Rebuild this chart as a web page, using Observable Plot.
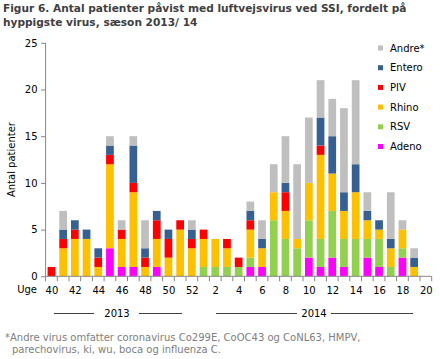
<!DOCTYPE html>
<html><head><meta charset="utf-8">
<script src="https://cdn.jsdelivr.net/npm/d3@7"></script>
<script src="https://cdn.jsdelivr.net/npm/@observablehq/plot@0.6"></script>
<style>
body{margin:0;background:#fff;}
#wrap{position:relative;width:440px;height:359px;font-family:"DejaVu Sans",Verdana,sans-serif;overflow:hidden;background:#fff}
#title{position:absolute;left:3px;top:2px;font-weight:bold;font-size:10.6px;line-height:13.5px;color:#404040;white-space:nowrap}
#plot{position:absolute;left:0;top:37px;width:440px}
#note{position:absolute;left:5px;top:332px;font-size:10px;line-height:12px;color:#808080;white-space:nowrap}
#note span{display:inline-block;margin-left:7px}
</style></head><body>
<div id="wrap">
<div id="title">Figur 6. Antal patienter påvist med luftvejsvirus ved SSI, fordelt på<br>hyppigste virus, sæson 2013/ 14</div>
<div id="plot"></div>
<div id="note">*Andre virus omfatter coronavirus Co299E, CoOC43 og CoNL63, HMPV,<br><span>parechovirus, ki, wu, boca og influenza C.</span></div>
</div>
<script>
const weeks = [40,41,42,43,44,45,46,47,48,49,50,51,52,1,2,3,4,5,6,7,8,9,10,11,12,13,14,15,16,17,18,19,20];
const tickWeeks = [40,42,44,46,48,50,52,2,4,6,8,10,12,14,16,18,20];
const seriesNames = ["Adeno","RSV","Rhino","PIV","Entero","Andre*"];
const seriesColors = ["#FF00FF","#92D050","#FFC000","#FF0000","#376092","#BFBFBF"];
//               40 41 42 43 44 45 46 47 48 49 50 51 52  1  2  3  4  5  6  7  8  9 10 11 12 13 14 15 16 17 18 19 20
const adeno  = [ 0, 0, 0, 0, 0, 3, 1, 1, 0, 1, 0, 0, 0, 0, 0, 0, 0, 1, 1, 0, 0, 0, 2, 1, 2, 1, 0, 2, 1, 0, 2, 0, 0];
const rsv    = [ 0, 0, 0, 0, 0, 0, 0, 0, 0, 0, 0, 0, 0, 1, 1, 1, 1, 1, 0, 6, 4, 3, 4, 3, 5, 3, 4, 2, 3, 1, 1, 0, 0];
const rhino  = [ 0, 3, 4, 4, 1, 9, 3, 8, 1, 3, 2, 5, 3, 3, 3, 2, 0, 3, 2, 3, 3, 1, 4, 9, 4, 3, 5, 2, 1, 2, 2, 1, 0];
const piv    = [ 1, 1, 1, 0, 1, 1, 1, 1, 1, 2, 2, 1, 1, 1, 0, 1, 1, 1, 0, 0, 2, 0, 0, 1, 0, 0, 0, 0, 0, 0, 0, 0, 0];
const entero = [ 0, 1, 1, 1, 1, 1, 0, 4, 1, 1, 1, 0, 1, 0, 0, 0, 0, 1, 1, 0, 1, 0, 0, 3, 4, 2, 3, 1, 1, 1, 0, 1, 0];
const andre  = [ 0, 2, 0, 0, 0, 1, 1, 1, 3, 0, 0, 0, 1, 0, 0, 0, 0, 1, 2, 3, 5, 8, 7, 4, 4, 9, 9, 2, 0, 5, 1, 1, 0];
const seriesValues = [adeno, rsv, rhino, piv, entero, andre];

const data = seriesNames.flatMap((s, i) => weeks.map((w, j) => ({week: w, series: s, value: seriesValues[i][j]})));

const W = 440, H = 290, mt = 5.8, mb = 50.7, ml = 45.6, mr = 8.3;
const axisColor = "#868686";
const plot = Plot.plot({
  width: W, height: H, marginTop: mt, marginBottom: mb, marginLeft: ml, marginRight: mr,
  x: {type: "band", domain: weeks, paddingInner: 0.34, paddingOuter: 0.17, align: 0.5, round: false},
  y: {domain: [0, 25]},
  color: {domain: seriesNames, range: seriesColors},
  style: {fontFamily: "'DejaVu Sans', Verdana, sans-serif", fontSize: "10px", color: "#000", background: "transparent", overflow: "visible"},
  marks: [
    Plot.barY(data, {x: "week", y: "value", fill: "series", order: seriesNames}),
    Plot.axisY({ticks: [0,5,10,15,20,25], tickSize: 4.5, tickPadding: 4, label: null, stroke: axisColor, fill: "#000"}),
    Plot.axisX({ticks: tickWeeks, tickSize: 0, tickPadding: 10, label: null, fill: "#000"})
  ]
});
document.getElementById("plot").appendChild(plot);

const svg = d3.select(plot);
const xs = plot.scale("x"), ys = plot.scale("y");
const y0 = ys.apply(0), yTop = ys.apply(25);
const gap = (xs.step - xs.bandwidth) / 2;
const bounds = weeks.map(w => xs.apply(w) - gap);
bounds.push(bounds[bounds.length - 1] + xs.step);
const g = svg.append("g").attr("text-anchor", "start");
// axis lines
g.append("line").attr("x1", bounds[0]).attr("x2", bounds[bounds.length-1]).attr("y1", y0).attr("y2", y0).attr("stroke", axisColor);
g.append("line").attr("x1", bounds[0]).attr("x2", bounds[0]).attr("y1", yTop).attr("y2", y0).attr("stroke", axisColor);
g.selectAll(".bt").data(bounds).join("line").attr("x1", d => d).attr("x2", d => d).attr("y1", y0).attr("y2", y0 + 5).attr("stroke", axisColor);
// "Uge"
g.append("text").attr("x", 37).attr("y", y0 + 10).attr("dy", "0.71em").attr("text-anchor", "end").attr("font-size", 10).attr("fill", "#000").text("Uge");
// y label
g.append("text").attr("transform", `translate(15,${(yTop + y0) / 2}) rotate(-90)`).attr("text-anchor", "middle").attr("font-size", 10).attr("fill", "#000").text("Antal patienter");
// year labels
const yy = 276;
const years = [{t: "2013", c: 117, l: [54, 94], r: [139, 182]}, {t: "2014", c: 314, l: [216, 297], r: [331, 413]}];
for (const yr of years) {
  g.append("text").attr("x", yr.c).attr("y", yy).attr("dy", "0.35em").attr("text-anchor", "middle").attr("font-size", 10).attr("fill", "#000").text(yr.t);
  for (const seg of [yr.l, yr.r]) g.append("line").attr("x1", seg[0]).attr("x2", seg[1]).attr("y1", yy + 0.5).attr("y2", yy + 0.5).attr("stroke", "#404040");
}
// legend
const legendOrder = seriesNames.map((s, i) => ({s, c: seriesColors[i]})).reverse();
const lg = g.append("g");
legendOrder.forEach((d, i) => {
  const cy = 11 + i * 19.7;
  lg.append("rect").attr("x", 378).attr("y", cy - 2.5).attr("width", 5).attr("height", 5).attr("fill", d.c);
  lg.append("text").attr("x", 390).attr("y", cy).attr("dy", "0.35em").attr("text-anchor", "start").attr("font-size", 10).attr("fill", "#000").text(d.s);
});
</script>
</body></html>
